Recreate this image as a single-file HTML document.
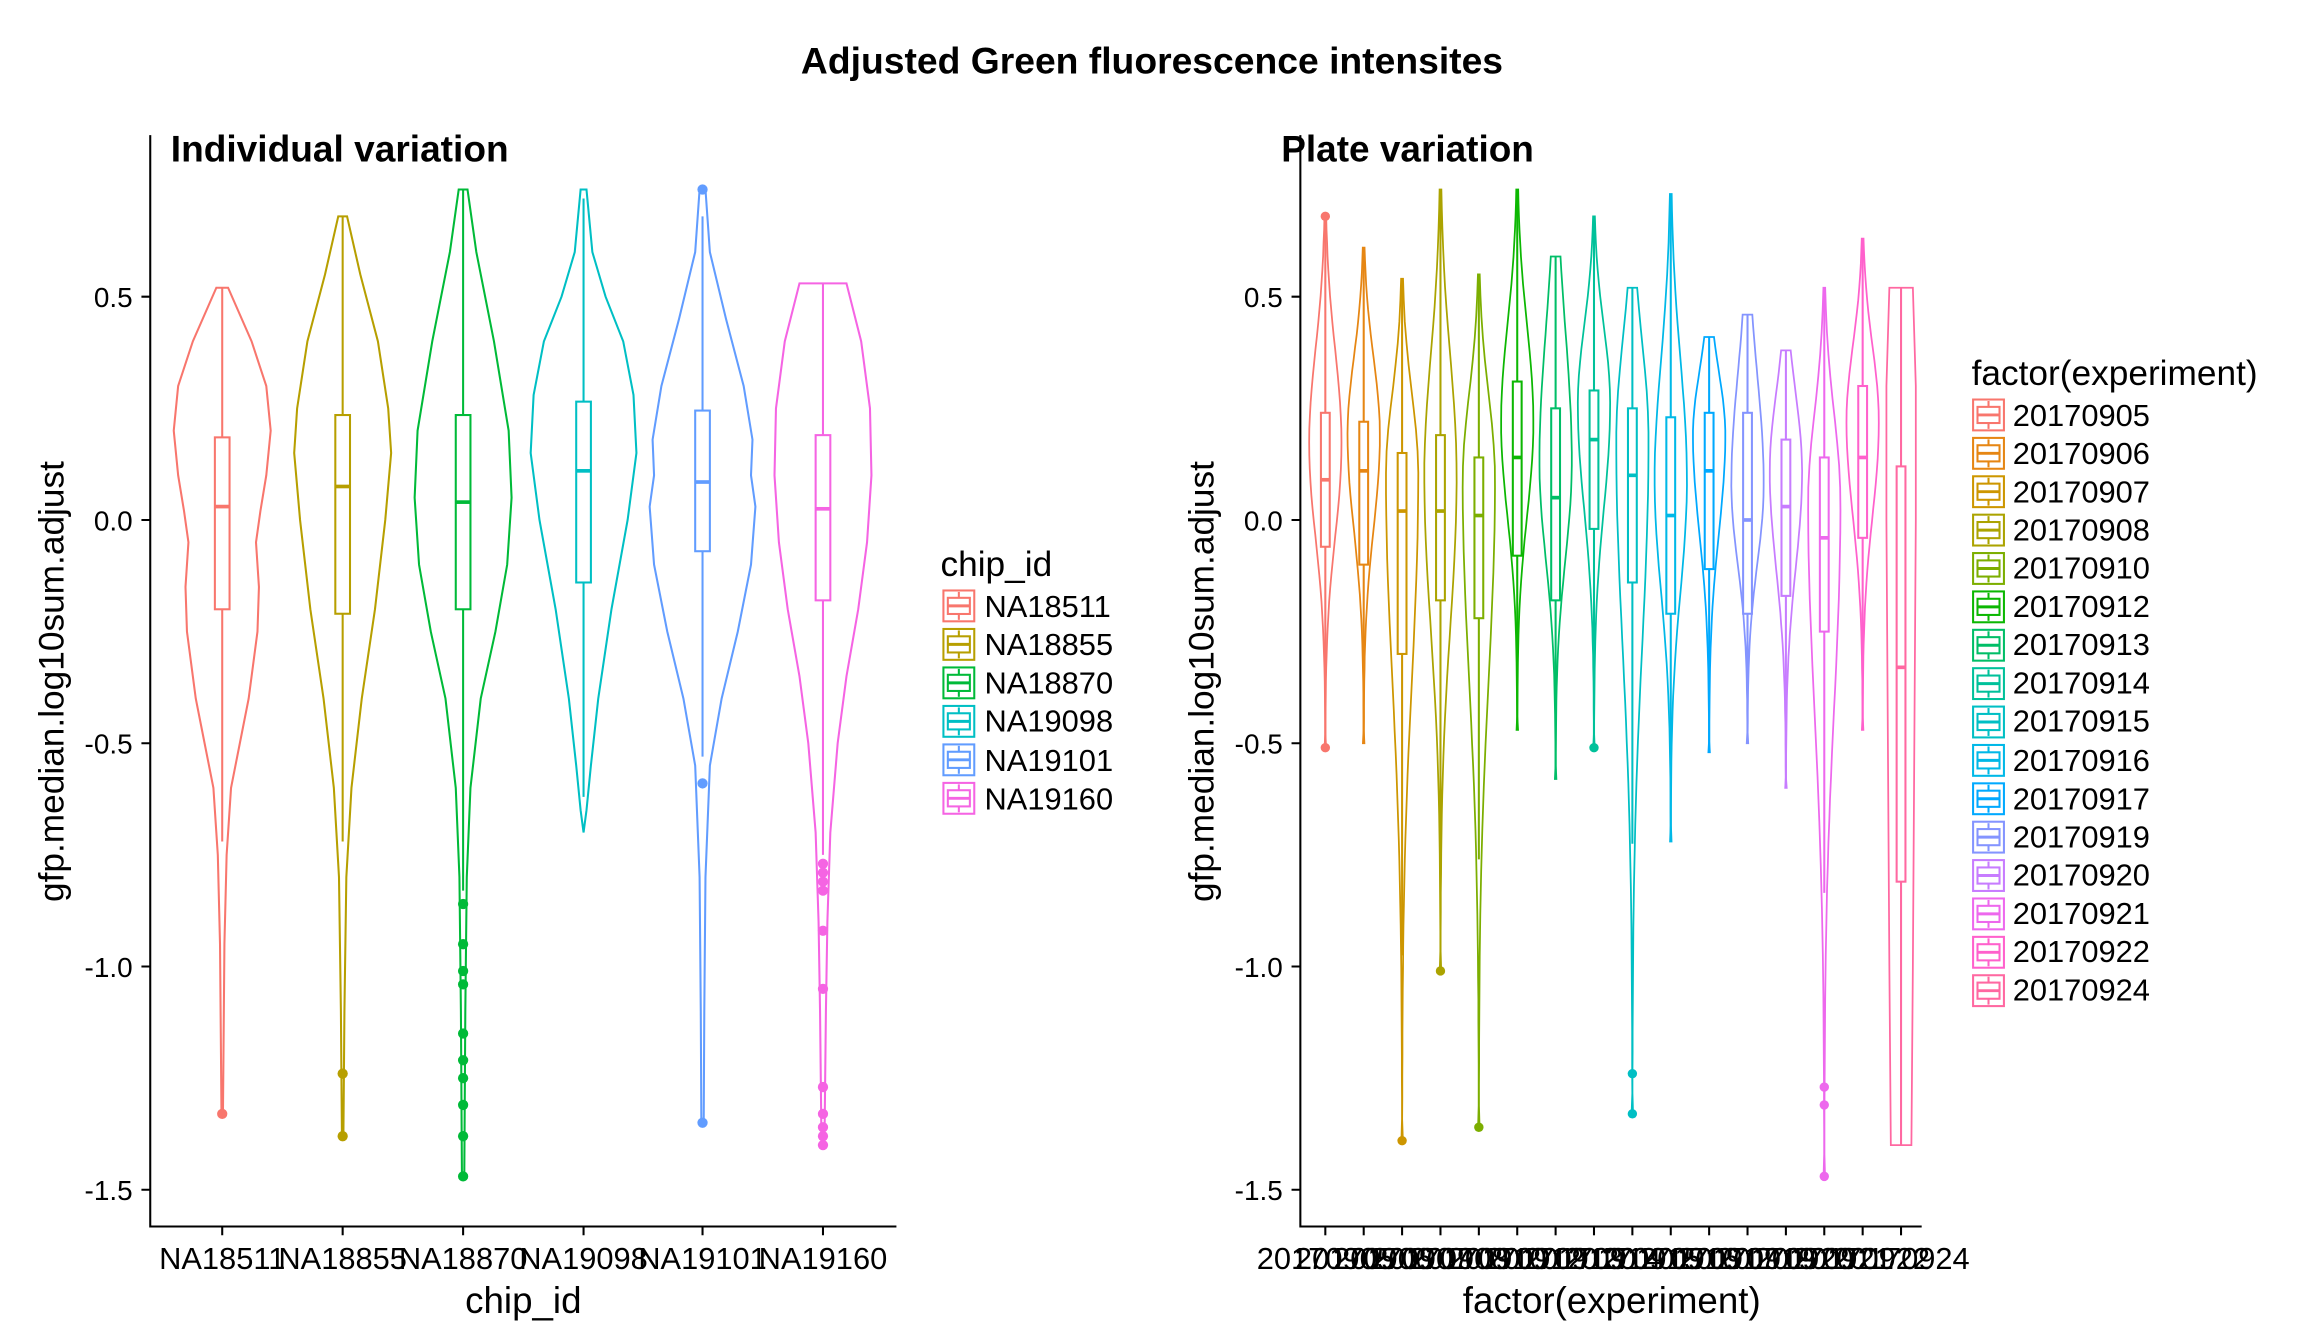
<!DOCTYPE html>
<html><head><meta charset="utf-8"><style>
html,body{margin:0;padding:0;background:#fff;}
svg{display:block;font-family:"Liberation Sans",Arial,sans-serif;}
</style></head><body>
<svg id="s" width="2304" height="1344" viewBox="0 0 1568 915" xmlns="http://www.w3.org/2000/svg">
<rect width="1568" height="915" fill="#fff"/>
<text x="784" y="50" font-size="25" font-weight="bold" text-anchor="middle" textLength="478" lengthAdjust="spacingAndGlyphs">Adjusted Green fluorescence intensites</text>
<text x="116" y="110" font-size="25" font-weight="bold" textLength="230" lengthAdjust="spacingAndGlyphs">Individual variation</text>
<text x="872" y="110" font-size="25" font-weight="bold" textLength="172" lengthAdjust="spacingAndGlyphs">Plate variation</text>
<g stroke="#000" stroke-width="1.4" fill="none">
<path d="M102 92V835H610"/>
<path d="M885 92V835H1308"/>
<path d="M96 202H102M96 354H102M96 506H102M96 658H102M96 810H102"/>
<path d="M879 202H885M879 354H885M879 506H885M879 658H885M879 810H885"/>
<path d="M151 835V841M233 835V841M315 835V841M397 835V841M478 835V841M560 835V841"/>
</g>
<g id="tk" stroke="#000" stroke-width="1.4"></g>
<g font-size="19" text-anchor="end">
<text x="90" y="209">0.5</text><text x="90" y="361">0.0</text><text x="90" y="513">-0.5</text><text x="90" y="665">-1.0</text><text x="90" y="817">-1.5</text>
<text x="873" y="209">0.5</text><text x="873" y="361">0.0</text><text x="873" y="513">-0.5</text><text x="873" y="665">-1.0</text><text x="873" y="817">-1.5</text>
</g>
<g font-size="21" text-anchor="middle">
<text x="151" y="864">NA18511</text><text x="233" y="864">NA18855</text><text x="315" y="864">NA18870</text><text x="397" y="864">NA19098</text><text x="478" y="864">NA19101</text><text x="560" y="864">NA19160</text>
<text x="902" y="864">20170905</text><text x="928" y="864">20170906</text><text x="954" y="864">20170907</text><text x="980" y="864">20170908</text><text x="1006" y="864">20170910</text><text x="1032" y="864">20170912</text><text x="1058" y="864">20170913</text><text x="1084" y="864">20170914</text><text x="1111" y="864">20170915</text><text x="1137" y="864">20170916</text><text x="1163" y="864">20170917</text><text x="1189" y="864">20170919</text><text x="1215" y="864">20170920</text><text x="1241" y="864">20170921</text><text x="1267" y="864">20170922</text><text x="1294" y="864">20170924</text>
</g>
<text x="356" y="894" font-size="25" text-anchor="middle">chip_id</text>
<text x="1097" y="894" font-size="25" text-anchor="middle">factor(experiment)</text>
<text transform="translate(43,464) rotate(-90)" font-size="24" text-anchor="middle">gfp.median.log10sum.adjust</text>
<text transform="translate(826,464) rotate(-90)" font-size="24" text-anchor="middle">gfp.median.log10sum.adjust</text>
<text x="640" y="392" font-size="24">chip_id</text>
<g font-size="21">
<text x="670" y="420">NA18511</text><text x="670" y="446">NA18855</text><text x="670" y="472">NA18870</text><text x="670" y="498">NA19098</text><text x="670" y="525">NA19101</text><text x="670" y="551">NA19160</text>
</g>
<text x="1342" y="262" font-size="24">factor(experiment)</text>
<g font-size="21">
<text x="1370" y="290">20170905</text><text x="1370" y="316">20170906</text><text x="1370" y="342">20170907</text><text x="1370" y="368">20170908</text><text x="1370" y="394">20170910</text><text x="1370" y="420">20170912</text><text x="1370" y="446">20170913</text><text x="1370" y="472">20170914</text><text x="1370" y="498">20170915</text><text x="1370" y="525">20170916</text><text x="1370" y="551">20170917</text><text x="1370" y="577">20170919</text><text x="1370" y="603">20170920</text><text x="1370" y="629">20170921</text><text x="1370" y="655">20170922</text><text x="1370" y="681">20170924</text>
</g>
<g id="g"></g>
</svg>
<script>
var g=document.getElementById('g'),NS='http://www.w3.org/2000/svg';
function Y(v){return 354-304*v;}
function el(t,a){var e=document.createElementNS(NS,t);for(var k in a)e.setAttribute(k,a[k]);g.appendChild(e);return e;}
function violin(x,prof,col,sw){
  var L=[],R=[];
  prof.forEach(function(p){L.push((x-p[1]).toFixed(1)+','+Y(p[0]).toFixed(1));R.unshift((x+p[1]).toFixed(1)+','+Y(p[0]).toFixed(1));});
  el('polygon',{points:L.concat(R).join(' '),fill:'none',stroke:col,'stroke-width':sw||1.4});
}
function box(x,b,col,hw,outs,r){
  el('line',{x1:x,x2:x,y1:Y(b[4]),y2:Y(b[2]),stroke:col,'stroke-width':1.4});
  el('line',{x1:x,x2:x,y1:Y(b[0]),y2:Y(b[3]),stroke:col,'stroke-width':1.4});
  el('rect',{x:x-hw,y:Y(b[2]),width:2*hw,height:Y(b[0])-Y(b[2]),fill:'#fff',stroke:col,'stroke-width':1.4});
  el('line',{x1:x-hw,x2:x+hw,y1:Y(b[1]),y2:Y(b[1]),stroke:col,'stroke-width':2.5});
  (outs||[]).forEach(function(o){el('circle',{cx:x,cy:Y(o),r:r||3.5,fill:col});});
}
var LC=['#F8766D','#B79F00','#00BA38','#00BFC4','#619CFF','#F564E3'],LX=[151,233,315,397,478,560];
var LP=[
[[0.52,0],[0.52,4],[0.4,20],[0.3,30],[0.2,33],[0.1,30],[0.02,26],[-0.05,23],[-0.15,25],[-0.25,24],[-0.4,18],[-0.5,12],[-0.6,6],[-0.75,3],[-0.95,1.5],[-1.33,0.5],[-1.33,0]],
[[0.68,0],[0.68,3],[0.55,12],[0.4,24],[0.25,31],[0.15,33],[0.0,29],[-0.2,22],[-0.4,13],[-0.6,6],[-0.8,2.5],[-1.1,1.2],[-1.38,0.5],[-1.38,0]],
[[0.74,0],[0.74,3],[0.6,9],[0.4,21],[0.2,31],[0.05,33],[-0.1,30],[-0.25,22],[-0.4,12],[-0.6,5],[-0.8,2.5],[-1.1,1.5],[-1.47,0.8],[-1.47,0]],
[[0.74,0],[0.74,2],[0.6,6],[0.5,15],[0.4,27],[0.28,34],[0.15,36],[0.0,30],[-0.2,19],[-0.4,10],[-0.55,5],[-0.65,2],[-0.7,0]],
[[0.74,0],[0.74,2],[0.6,5],[0.45,16],[0.3,28],[0.18,34],[0.1,33],[0.03,36],[-0.1,33],[-0.25,24],[-0.4,13],[-0.55,5],[-0.8,2],[-1.1,1.2],[-1.35,0.8],[-1.35,0]],
[[0.53,0],[0.53,16],[0.4,26],[0.25,32],[0.1,33],[-0.05,30],[-0.2,24],[-0.35,16],[-0.5,10],[-0.7,5],[-0.9,3],[-1.1,2],[-1.25,1.5],[-1.4,1],[-1.4,0]]];
var LB=[[-0.2,0.03,0.185,-0.72,0.52],[-0.21,0.075,0.235,-0.72,0.68],[-0.2,0.04,0.235,-0.83,0.74],[-0.14,0.11,0.265,-0.62,0.72],[-0.07,0.085,0.245,-0.53,0.68],[-0.18,0.025,0.19,-0.75,0.53]];
var LO=[[-1.33],[-1.24,-1.38],[-0.86,-0.95,-1.01,-1.04,-1.15,-1.21,-1.25,-1.31,-1.38,-1.47],[],[0.74,-0.59,-1.35],[-0.77,-0.79,-0.81,-0.83,-0.92,-1.05,-1.27,-1.33,-1.36,-1.38,-1.4]];
for(var i=0;i<6;i++){violin(LX[i],LP[i],LC[i]);box(LX[i],LB[i],LC[i],5,LO[i]);}
var RC=["#F8766D","#E68613","#CD9600","#ABA300","#7CAE00","#0CB702","#00BE67","#00C19A","#00BFC4","#00B8E7","#00A9FF","#8494FF","#C77CFF","#ED68ED","#FF61CC","#FF68A1"];
var R=[
[0.68,-0.51,[-0.06,0.09,0.24],[0.68,-0.51],0],
[0.61,-0.5,[-0.1,0.11,0.22],[],0],
[0.54,-1.39,[-0.3,0.02,0.15],[-1.39],0],
[0.74,-1.01,[-0.18,0.02,0.19],[-1.01],0],
[0.55,-1.36,[-0.22,0.01,0.14],[-1.36],0],
[0.74,-0.47,[-0.08,0.14,0.31],[],0],
[0.59,-0.58,[-0.18,0.05,0.25],[],1],
[0.68,-0.51,[-0.02,0.18,0.29],[-0.51],0],
[0.52,-1.33,[-0.14,0.1,0.25],[-1.24,-1.33],1],
[0.73,-0.72,[-0.21,0.01,0.23],[],0],
[0.41,-0.52,[-0.11,0.11,0.24],[],1],
[0.46,-0.5,[-0.21,0.0,0.24],[],1],
[0.38,-0.6,[-0.17,0.03,0.18],[],1],
[0.52,-1.47,[-0.25,-0.04,0.14],[-1.27,-1.31,-1.47],0],
[0.63,-0.47,[-0.04,0.14,0.3],[],0],
[0.52,-1.4,[-0.81,-0.33,0.12],[],2]];
for(var j=0;j<16;j++){
  var x=902+j*26.13,r=R[j],mx=r[0],mn=r[1],b=r[2],c=b[1]+0.08,prof=[];
  el('line',{x1:x,x2:x,y1:835,y2:841,stroke:'#000','stroke-width':1.4});
  var su=(mx-c)/1.7,sd=(c-mn)/2.3;
  if(r[4]==1)su=(mx-c)/1.1;
  if(r[4]==2){prof=[[mx,0],[mx,8],[0.3,10],[0,10],[-0.5,9],[-1.0,8],[mn,7],[mn,0]];}
  else{
   for(var k=0;k<=40;k++){var v=mx-(mx-mn)*k/40,s=v>c?su:sd,w=11*Math.exp(-Math.pow((v-c)/s,2));
    if(k==0||k==40)w=Math.max(w,0.5);prof.push([v,w]);}
   prof.unshift([mx,0]);prof.push([mn,0]);
  }
  violin(x,prof,RC[j],1.2);
  var q=b[2]-b[0];
  box(x,[b[0],b[1],b[2],Math.max(mn,b[0]-1.5*q),Math.min(mx,b[2]+1.5*q)],RC[j],3,r[3],3.2);
}
function key(x,y,col){
  el('rect',{x:x,y:y,width:21,height:21,fill:'#fff',stroke:col,'stroke-width':1.4});
  el('rect',{x:x+3,y:y+5,width:15,height:11,fill:'#fff',stroke:col,'stroke-width':1.4});
  el('line',{x1:x+3,x2:x+18,y1:y+10.5,y2:y+10.5,stroke:col,'stroke-width':2});
  el('line',{x1:x+10.5,x2:x+10.5,y1:y+1,y2:y+5,stroke:col,'stroke-width':1.4});
  el('line',{x1:x+10.5,x2:x+10.5,y1:y+16,y2:y+20,stroke:col,'stroke-width':1.4});
}
for(i=0;i<6;i++)key(642,402+i*26.2,LC[i]);
for(j=0;j<16;j++)key(1343,272+j*26.13,RC[j]);
</script>
</body></html>
